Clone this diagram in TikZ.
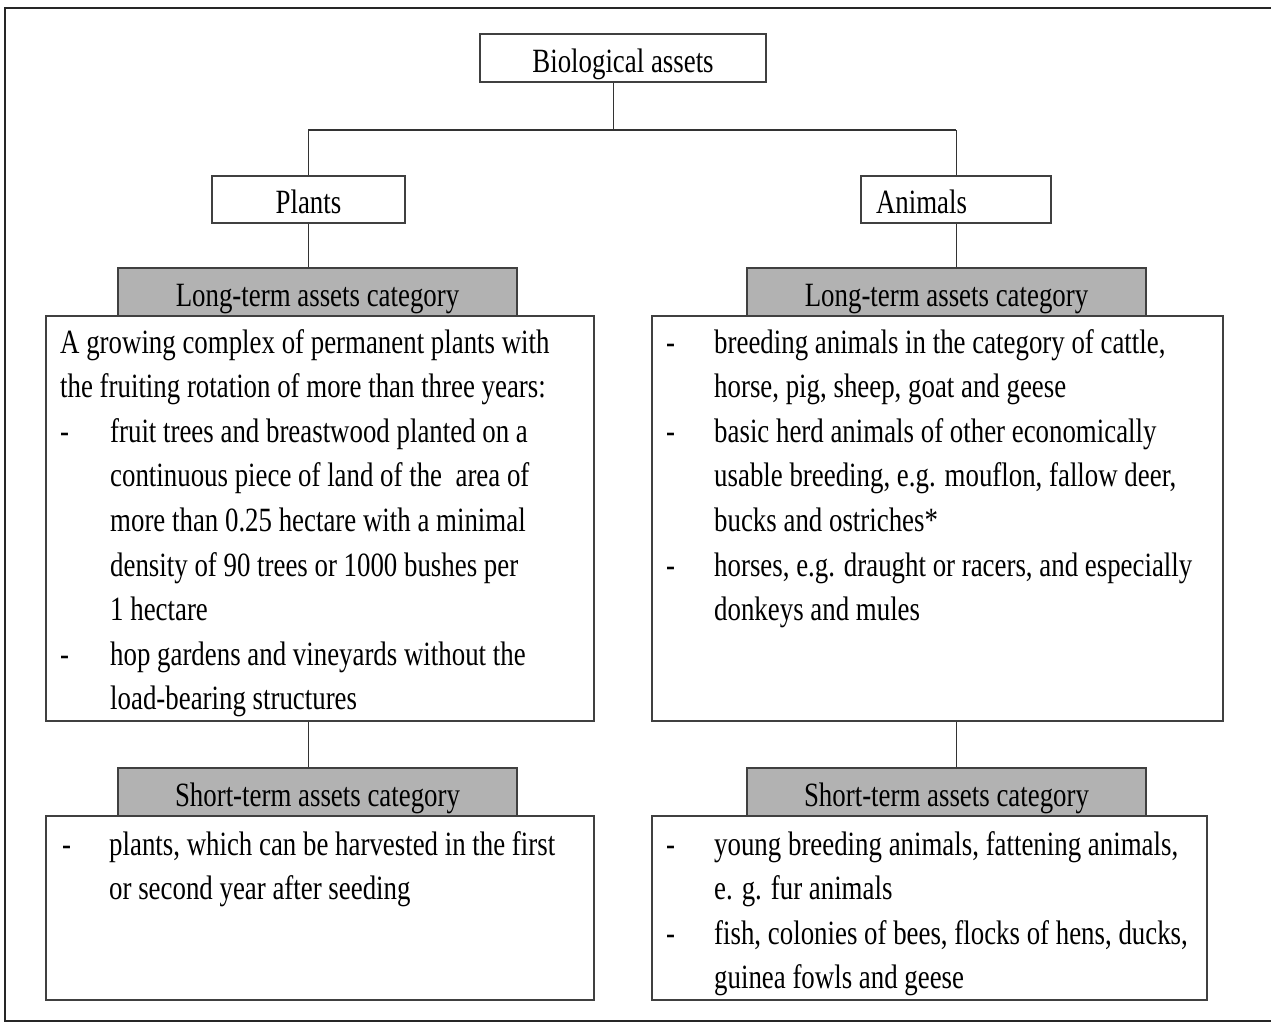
\documentclass[tikz,border=0pt]{standalone}
\usepackage{fontspec}
\setmainfont{Liberation Serif}[FakeStretch=0.79]
\begin{document}
\begin{tikzpicture}[x=1pt,y=-1pt,
  every node/.style={font=\fontsize{34}{44.6}\selectfont},
  bx/.style={draw=black!75, line width=1.3pt, fill=white, inner sep=0pt, text height=28pt, text depth=0pt},
  hdr/.style={bx, fill=black!30, minimum width=399pt, minimum height=48pt},
  ln/.style={draw=black!80, line width=1pt},
  txt/.style={anchor=base west, inner sep=0pt, align=left}]
\useasboundingbox (0,0) rectangle (1271,1023);
\fill[white] (0,0) rectangle (1271,1023);
\draw[line width=2pt, black!85] (1280,8) -- (5,8) -- (5,1021) -- (1280,1021);

% junctions
\coordinate (j) at (613,130);
\coordinate (jl) at (308,130);
\coordinate (jr) at (956,130);

% top level
\node[bx, minimum width=286pt, minimum height=48pt] (bio) at (623,58) {Biological assets};
\node[bx, minimum width=193pt, minimum height=47pt] (plants) at (308.5,199.5) {Plants};
\node[bx, minimum width=190pt, minimum height=47pt] (animals) at (956,199.5) {\makebox[190pt][l]{\hspace{15pt}Animals}};

% long-term
\node[bx, minimum width=548pt, minimum height=405pt] (lbl) at (320,518.5) {};
\node[bx, minimum width=571pt, minimum height=405pt] (lbr) at (937.5,518.5) {};
\node[hdr] (lhl) at (317.5,292) {Long-term assets category};
\node[hdr] (lhr) at (946.5,292) {Long-term assets category};

% short-term
\node[bx, minimum width=548pt, minimum height=184pt] (sbl) at (320,908) {};
\node[bx, minimum width=555pt, minimum height=184pt] (sbr) at (929.5,908) {};
\node[hdr] (shl) at (317.5,792) {Short-term assets category};
\node[hdr] (shr) at (946.5,792) {Short-term assets category};

% connectors
\draw[ln] (bio.south -| j) -- (j);
\draw[ln, line width=2pt] (jl) -- (jr);
\draw[ln] (jl) -- (plants.north -| jl);
\draw[ln] (jr) -- (animals.north -| jr);
\draw[ln] (plants.south -| jl) -- (lhl.north -| jl);
\draw[ln] (animals.south -| jr) -- (lhr.north -| jr);
\draw[ln] (lbl.south -| jl) -- (shl.north -| jl);
\draw[ln] (lbr.south -| jr) -- (shr.north -| jr);

% texts
\node[txt] (tlbl) at (60,353) {\begin{tabular}[t]{@{}p{50pt}@{}l@{}}
\multicolumn{2}{@{}l@{}}{A growing complex of permanent plants with}\\
\multicolumn{2}{@{}l@{}}{the fruiting rotation of more than three years:}\\
- & fruit trees and breastwood planted on a\\
  & continuous piece of land of the~ area of\\
  & more than 0.25 hectare with a minimal\\
  & density of 90 trees or 1000 bushes per\\
  & 1 hectare\\
- & hop gardens and vineyards without the\\
  & load-bearing structures
\end{tabular}};

\node[txt] (tlbr) at (666,353) {\begin{tabular}[t]{@{}p{48pt}@{}l@{}}
- & breeding animals in the category of cattle,\\
  & horse, pig, sheep, goat and geese\\
- & basic herd animals of other economically\\
  & usable breeding, e.g. mouflon, fallow deer,\\
  & bucks and ostriches*\\
- & horses, e.g. draught or racers, and especially\\
  & donkeys and mules
\end{tabular}};

\node[txt] (tsbl) at (62,855) {\begin{tabular}[t]{@{}p{47pt}@{}l@{}}
- & plants, which can be harvested in the first\\
  & or second year after seeding
\end{tabular}};

\node[txt] (tsbr) at (666,855) {\begin{tabular}[t]{@{}p{48pt}@{}l@{}}
- & young breeding animals, fattening animals,\\
  & e. g. fur animals\\
- & fish, colonies of bees, flocks of hens, ducks,\\
  & guinea fowls and geese
\end{tabular}};
\end{tikzpicture}
\end{document}
